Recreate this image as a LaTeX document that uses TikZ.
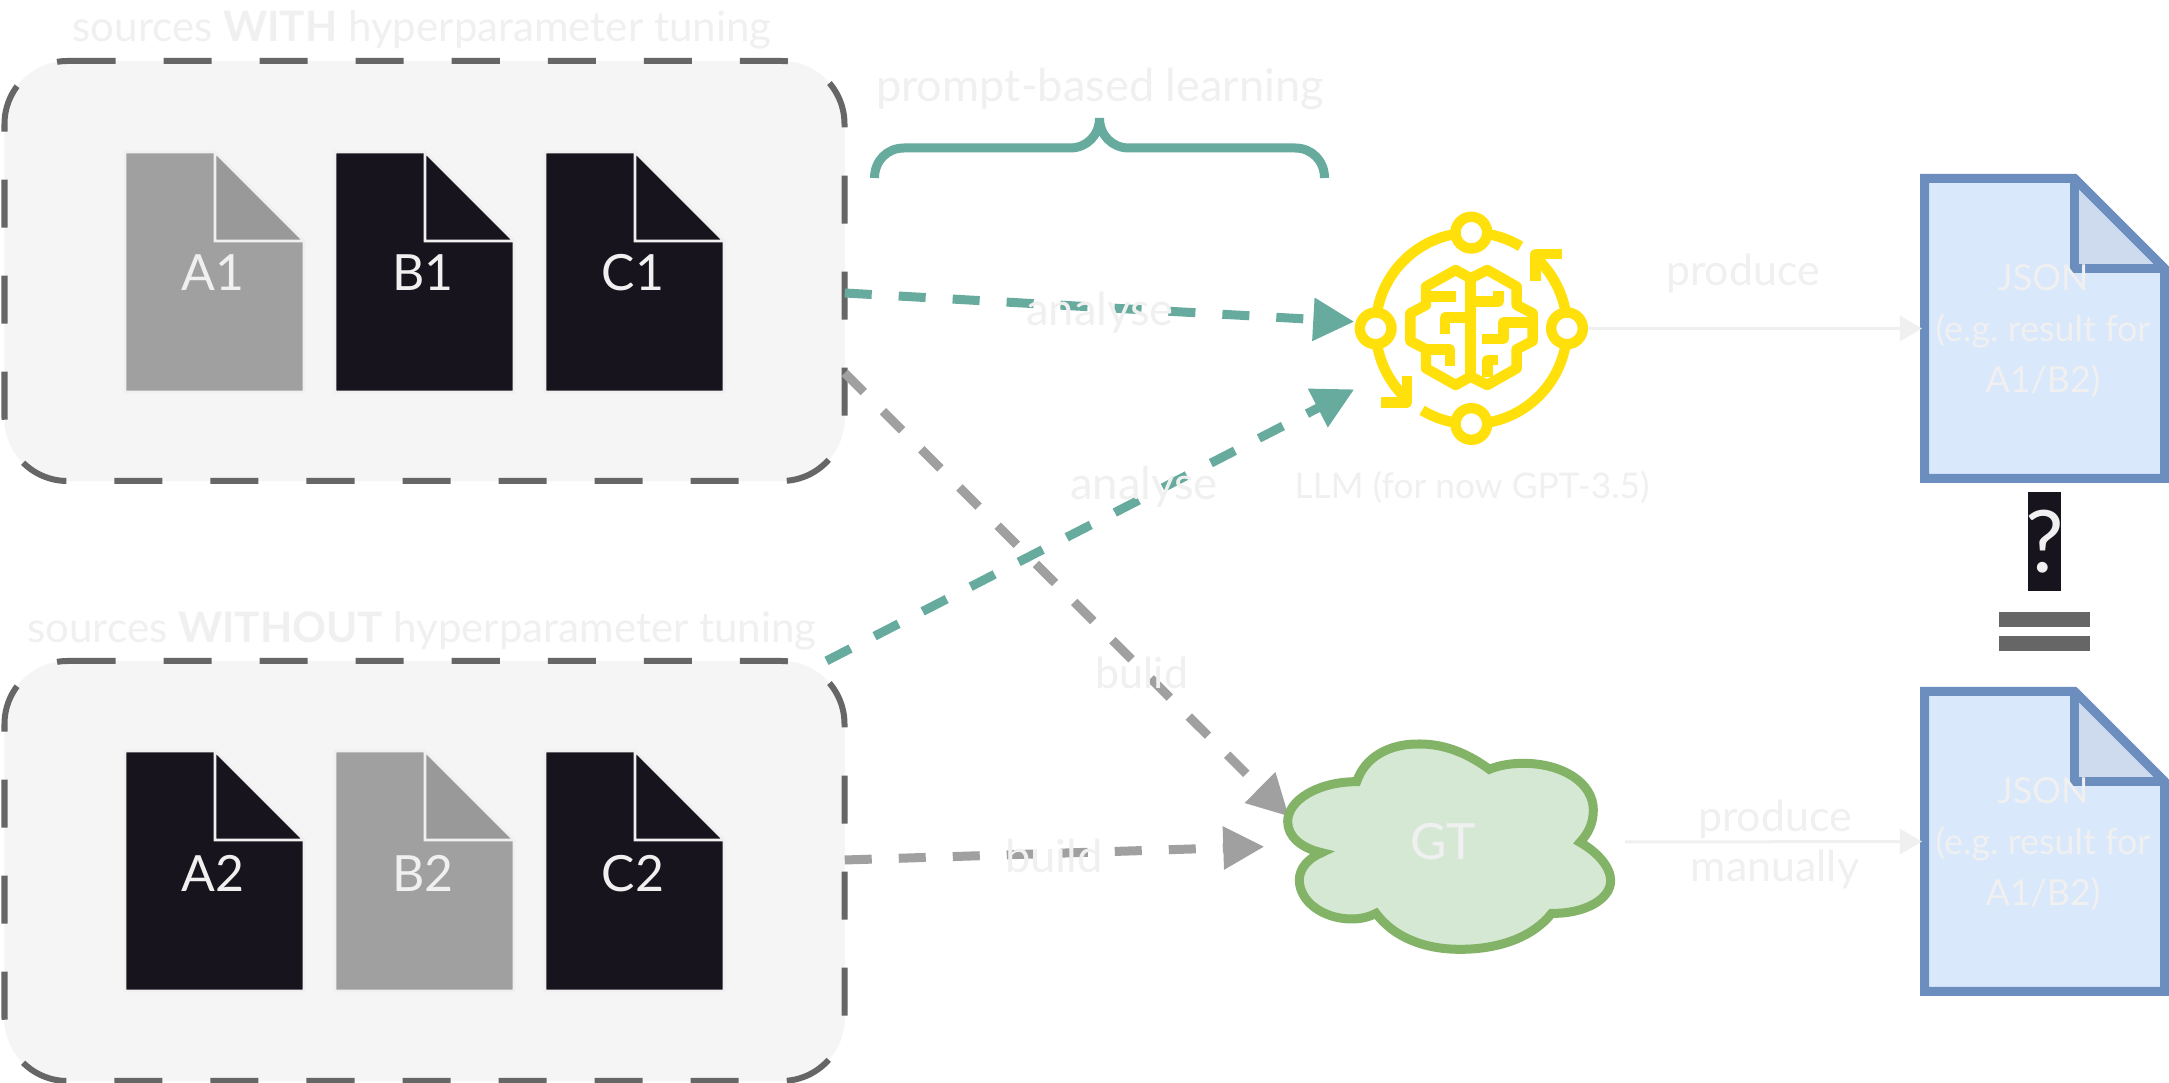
\documentclass[tikz,border=0pt]{standalone}
\usepackage{fontspec}
\setmainfont{Lato}
\frenchspacing
\usetikzlibrary{arrows.meta,calc}
\definecolor{lightt}{HTML}{F0F0F0}
\definecolor{boxfill}{HTML}{F5F5F5}
\definecolor{boxline}{HTML}{666666}
\definecolor{darkdoc}{HTML}{18141D}
\definecolor{greydoc}{HTML}{A0A0A0}
\definecolor{greyfold}{HTML}{999999}
\definecolor{tealc}{HTML}{67AB9F}
\definecolor{iconc}{HTML}{FFE00A}
\definecolor{jsonfill}{HTML}{DAE8FC}
\definecolor{jsonfold}{HTML}{CEDBEE}
\definecolor{jsonline}{HTML}{6C8EBF}
\definecolor{gtfill}{HTML}{D5E8D4}
\definecolor{gtline}{HTML}{82B366}
\tikzset{
  srcarea/.style={draw=none,fill=boxfill,rounded corners=0.63cm,minimum width=8.4cm,minimum height=4.2cm,inner sep=0pt,outer sep=0pt},
  srcborder/.style={draw=boxline,line width=0.06cm,dash pattern=on 0.48cm off 0.48cm},
  ghost/.style={inner sep=0pt,outer sep=0pt},
  txt/.style={text=lightt,inner sep=0pt,outer sep=0pt,anchor=base},
  sourcehead/.style={txt,font=\fontsize{11.95pt}{14pt}\selectfont},
  prompthead/.style={txt,font=\fontsize{12.85pt}{15pt}\selectfont},
  doclabel/.style={txt,font=\fontsize{14.2pt}{16pt}\selectfont},
  flowlabel/.style={txt,font=\fontsize{12.2pt}{14pt}\selectfont},
  anlabel/.style={txt,font=\fontsize{12.9pt}{14pt}\selectfont},
  llmlabel/.style={txt,font=\fontsize{10.05pt}{14pt}\selectfont},
  tealflow/.style={draw=tealc,line width=0.09cm,dash pattern=on 0.27cm off 0.27cm,-{Triangle[length=0.41cm,width=0.41cm]},tealc},
  greyflow/.style={draw=greydoc,line width=0.09cm,dash pattern=on 0.27cm off 0.27cm,-{Triangle[length=0.41cm,width=0.41cm]},greydoc},
  thinflow/.style={draw=lightt,line width=0.03cm,-{Triangle[length=0.22cm,width=0.25cm]},lightt},
  docshape/.style={draw=lightt,line width=0.028cm},
  jsonshape/.style={draw=jsonline,line width=0.09cm,miter limit=10},
  icon/.style={draw=iconc,line width=0.104cm,line join=round},
}
\newcommand{\srcdoc}[5]{%
  \path[docshape,fill=#4] (#2,#3) -- ++(90,0) -- ++(89,89) -- ++(0,151) -- ++(-179,0) -- cycle;
  \path[docshape,fill=#5] (#2+90,#3) -- ++(0,89) -- ++(89,0) -- cycle;
}
\newcommand{\jsondoc}[1]{%
  \path[jsonshape,fill=jsonfill] (1924.5,#1) -- (2074.5,#1) -- (2164.5,#1+90) -- (2164.5,#1+300) -- (1924.5,#1+300) -- cycle;
  \path[jsonshape,fill=jsonfold] (2074.5,#1) -- (2074.5,#1+90) -- (2164.5,#1+90);
  \path[draw=jsonline,line width=0.09cm] (2074.5,#1) -- (2164.5,#1+90);
}
\newcommand{\srcframe}[1]{%
  \path[srcborder] (67.5,#1) -- (781.5,#1) .. controls (816.3,#1) and (844.5,#1+28.2) .. (844.5,#1+63)
    -- (844.5,#1+357) .. controls (844.5,#1+391.8) and (816.3,#1+420) .. (781.5,#1+420)
    -- (67.5,#1+420) .. controls (32.7,#1+420) and (4.5,#1+391.8) .. (4.5,#1+357)
    -- (4.5,#1+63) .. controls (4.5,#1+28.2) and (32.7,#1) .. (67.5,#1);
}
\begin{document}
\begin{tikzpicture}[x=0.01cm,y=-0.01cm]
\useasboundingbox[fill=white] (0,0) rectangle (2169,1083);

% source areas
\node[srcarea] (srcA) at (424.5,271) {};
\node[srcarea] (srcB) at (424.5,871) {};
\srcframe{61}
\srcframe{661}

\node[sourcehead] (tA) at (422,42) {sources \textbf{WITH} hyperparameter tuning};
\node[sourcehead] (tB) at (422,643) {sources \textbf{WITHOUT} hyperparameter tuning};

% documents
\srcdoc{b1}{335}{152}{darkdoc}{darkdoc}
\srcdoc{c1}{545}{152}{darkdoc}{darkdoc}
\srcdoc{a2}{125}{751}{darkdoc}{darkdoc}
\srcdoc{b2}{335}{751}{greydoc}{greyfold}
\srcdoc{c2}{545}{751}{darkdoc}{darkdoc}
\srcdoc{a1}{125}{152}{greydoc}{greyfold}
\node[doclabel] (lA1) at (213,291) {A1};
\node[doclabel] (lB1) at (423,291) {B1};
\node[doclabel] (lC1) at (633,291) {C1};
\node[doclabel] (lA2) at (213,892) {A2};
\node[doclabel] (lB2) at (423,892) {B2};
\node[doclabel] (lC2) at (633,892) {C2};

% LLM icon
\node[ghost,minimum width=2.33cm,minimum height=2.33cm] (llm) at (1471.3,328.3) {};
\begin{scope}[shift={(1250,180)},scale=0.33333]
  \path[icon] (664,445) ++(-90:287) arc[start angle=-90,end angle=-59,radius=287];
  \path[icon] (664,445) ++(-90:287) arc[start angle=-90,end angle=-180,radius=287];
  \path[icon] (664,445) ++(0:287) arc[start angle=0,end angle=90,radius=287];
  \path[icon] (664,445) ++(0:287) arc[start angle=0,end angle=-42,radius=287] -- (857,222);
  \path[icon] (936,222) -- (857,222) -- (857,302);
  \path[icon] (664,445) ++(180:287) arc[start angle=180,end angle=138,radius=287] -- (471,668);
  \path[icon] (392,668) -- (471,668) -- (471,588);
  \path[icon] (664,445) ++(90:287) arc[start angle=90,end angle=121,radius=287];
  \path[icon,fill=white] (377,445) circle[radius=47.5];
  \path[icon,fill=white] (664,158) circle[radius=47.5];
  \path[icon,fill=white] (951,445) circle[radius=47.5];
  \path[icon,fill=white] (664,732) circle[radius=47.5];
  % brain
  \path[icon] (662,295) -- (617,270) -- (528,320) -- (528,375) -- (481,400) -- (481,483) -- (528,508) -- (528,565) -- (617,615) -- (662,590) -- (712,615) -- (800,565) -- (800,508) -- (848,483) -- (848,400) -- (800,375) -- (800,320) -- (712,270) -- cycle;
  \path[icon] (662,295) -- (662,590);
  \path[icon] (528,349) -- (617,349);
  \path[icon] (585,462) -- (585,413) -- (662,413);
  \path[icon] (530,509) -- (600,509) -- (600,557);
  \path[icon] (662,365) -- (745,365) -- (745,333);
  \path[icon] (848,428) -- (760,428) -- (760,477) -- (697,477);
  \path[icon] (712,590) -- (712,540) -- (745,540);
\end{scope}
\node[llmlabel] (tLLM) at (1472,499) {LLM (for now GPT-3.5)};

% brace
\path[draw=tealc,line width=0.09cm] (874.5,178) .. controls (874.5,161) and (887,148) .. (904,148) -- (1070,148) .. controls (1087,148) and (1099.5,135) .. (1099.5,118) .. controls (1099.5,135) and (1112,148) .. (1129,148) -- (1295,148) .. controls (1312,148) and (1324.5,161) .. (1324.5,178);
\node[prompthead] (tPrompt) at (1100,102) {prompt-based learning};

% dashed connectors (the cloud lies over the first grey tip)
\coordinate (tealTip1) at (1354.3,321.7);
\coordinate (tealTip2) at (1354.3,389.3);
\coordinate (greyTip1) at (1289,816.5);
\coordinate (greyTip2) at (1264.3,846.7);
\draw[tealflow] ($(srcA.east)+(0,22)$) -- (tealTip1);
\draw[tealflow] ($(srcB.north)+(402,0)$) -- (tealTip2);
\draw[greyflow] ($(srcA.east)+(0,102)$) -- (greyTip1);
\draw[greyflow] ($(srcB.east)+(0,-11)$) -- (greyTip2);

% cloud
\begin{scope}[shift={(1250,720)},scale=0.33333]
\path[draw=gtline,fill=gtfill,line width=0.09cm,miter limit=10] (320,185) .. controls (345,110) and (420,70) .. (510,72)
 .. controls (590,72) and (660,105) .. (718,148)
 .. controls (750,135) and (785,130) .. (820,130)
 .. controls (940,130) and (1030,190) .. (1030,270)
 .. controls (1030,310) and (1015,340) .. (990,367)
 .. controls (1040,395) and (1082,440) .. (1082,482)
 .. controls (1082,540) and (1000,582) .. (905,580)
 .. controls (850,650) and (750,688) .. (630,688)
 .. controls (520,688) and (430,650) .. (378,580)
 .. controls (355,592) and (330,597) .. (305,597)
 .. controls (220,597) and (148,545) .. (148,480)
 .. controls (148,445) and (175,415) .. (215,398)
 .. controls (155,385) and (113,350) .. (113,305)
 .. controls (113,240) and (205,185) .. (320,185) -- cycle;
\end{scope}
\node[ghost,text=lightt,font=\fontsize{14.2pt}{16pt}\selectfont,minimum width=3.64cm,minimum height=2.2cm] (gt) at (1443,842) {GT};

% JSON docs
\jsondoc{178.5}
\jsondoc{691.5}
\node[ghost,minimum width=2.45cm,minimum height=3.09cm] (json1) at (2044.5,328.5) {};
\node[ghost,minimum width=2.45cm,minimum height=3.09cm] (json2) at (2044.5,841.5) {};
\node[ghost,text=lightt,align=center,font=\fontsize{10.2pt}{14.6pt}\selectfont] (tJ1) at (2043,331) {JSON\\(e.g. result for\\A1/B2)};
\node[ghost,text=lightt,align=center,font=\fontsize{10.2pt}{14.6pt}\selectfont] (tJ2) at (2043,844) {JSON\\(e.g. result for\\A1/B2)};

% question and equals
\node[ghost,fill=darkdoc,text=lightt,minimum width=0.33cm,minimum height=0.99cm,font=\fontsize{24.5pt}{25pt}\selectfont] (q) at (2044.5,541.5) {\makebox[0pt]{?}};
\node[ghost,fill=boxline,minimum width=0.91cm,minimum height=0.15cm] (eq1) at (2044.5,619.5) {};
\node[ghost,fill=boxline,minimum width=0.91cm,minimum height=0.15cm] (eq2) at (2044.5,643.5) {};

% solid connectors
\draw[thinflow] (llm.east) -- (json1.west);
\draw[thinflow] (gt.east) -- (json2.west);

% connector labels
\node[anlabel] (lAn1) at (1100,326) {analyse};
\node[anlabel] (lAn2) at (1144,500) {analyse};
\node[flowlabel] (lBu1) at (1142,689) {bulid};
\node[anlabel] (lBu2) at (1054,873) {build};
\node[flowlabel] (lPr1) at (1743,286) {produce};
\node[flowlabel] (lPr2) at (1775,832) {produce};
\node[flowlabel] (lPr3) at (1775,882) {manually};
\end{tikzpicture}
\end{document}
